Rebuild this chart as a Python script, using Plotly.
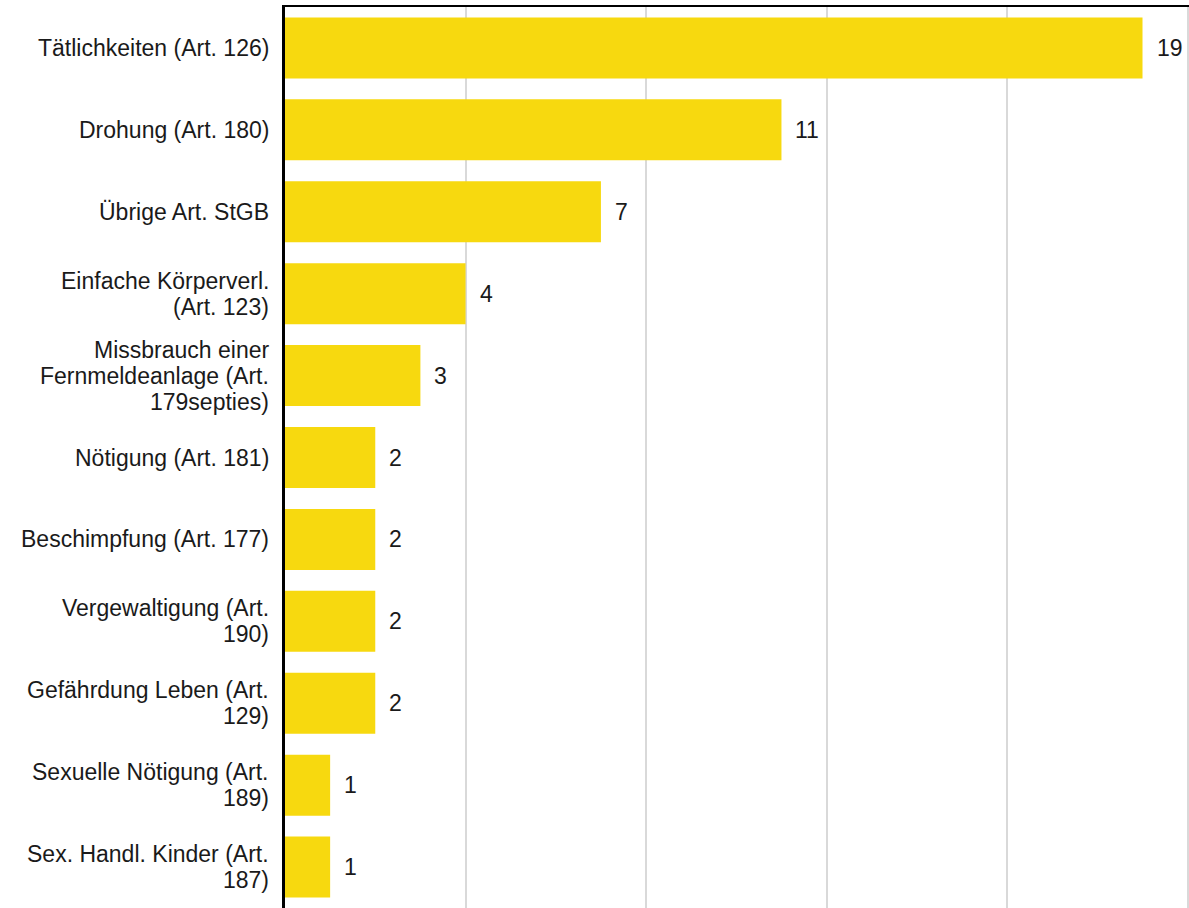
import plotly.graph_objects as go

# Offences (Straftatbestände) and number of cases
categories = [
    "Tätlichkeiten (Art. 126)",
    "Drohung (Art. 180)",
    "Übrige Art. StGB",
    "Einfache Körperverl.<br>(Art. 123)",
    "Missbrauch einer<br>Fernmeldeanlage (Art.<br>179septies)",
    "Nötigung (Art. 181)",
    "Beschimpfung (Art. 177)",
    "Vergewaltigung (Art.<br>190)",
    "Gefährdung Leben (Art.<br>129)",
    "Sexuelle Nötigung (Art.<br>189)",
    "Sex. Handl. Kinder (Art.<br>187)",
]
values = [19, 11, 7, 4, 3, 2, 2, 2, 2, 1, 1]
grid_steps = [4, 8, 12, 16, 20]

BAR_COLOR = "#F7D90F"
TEXT_COLOR = "#1a1a1a"
FONT = "Liberation Sans, Arial, sans-serif"
LABEL_SIZE = 23
LINE_STEP = 26  # line spacing for wrapped category labels

fig = go.Figure(
    go.Bar(
        x=values,
        y=categories,
        orientation="h",
        marker=dict(color=BAR_COLOR, line=dict(width=0)),
        hoverinfo="x",
    )
)

# value labels to the right of each bar
for cat, val in zip(categories, values):
    fig.add_annotation(
        x=val, y=cat, text=str(val), showarrow=False,
        xanchor="left", yanchor="middle", xshift=13, borderpad=0,
        font=dict(family=FONT, size=23, color=TEXT_COLOR),
    )

# category labels, one text line at a time so the wrapped lines sit close together
for cat in categories:
    lines = cat.split("<br>")
    n = len(lines)
    for i, line in enumerate(lines):
        fig.add_annotation(
            x=0, xref="paper", y=cat, yref="y",
            text=line, showarrow=False, borderpad=0,
            xanchor="right", yanchor="middle", xshift=-15,
            yshift=((n - 1) / 2 - i) * LINE_STEP,
            font=dict(family=FONT, size=LABEL_SIZE, color=TEXT_COLOR),
        )

fig.update_layout(
    width=1189,
    height=908,
    margin=dict(l=285, r=0, t=7, b=0),
    paper_bgcolor="white",
    plot_bgcolor="white",
    bargap=0.255,
    showlegend=False,
    font=dict(family=FONT, size=LABEL_SIZE, color=TEXT_COLOR),
    xaxis=dict(
        range=[0, 20.03],
        side="top",
        tickvals=grid_steps,
        showticklabels=False,
        ticks="",
        showgrid=True,
        gridcolor="#d9d9d9",
        gridwidth=2,
        zeroline=False,
        showline=True,
        linecolor="black",
        linewidth=2,
    ),
    yaxis=dict(
        autorange="reversed",
        ticks="",
        showticklabels=False,
        showgrid=False,
        showline=True,
        linecolor="black",
        linewidth=3,
    ),
)

fig.write_html("out.html")
